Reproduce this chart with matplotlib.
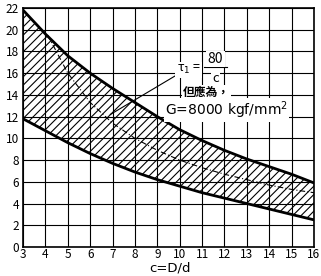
import matplotlib
matplotlib.use("Agg")
import matplotlib.pyplot as plt

# ── Data ──────────────────────────────────────────────────
c_vals = [3, 4, 5, 6, 7, 8, 9, 10, 11, 12, 13, 14, 15, 16]
upper = [21.8, 19.6, 17.6, 16.0, 14.6, 13.3, 12.0, 10.8, 9.8, 8.9, 8.1, 7.4, 6.7, 5.9]
lower = [11.8, 10.7, 9.6, 8.6, 7.7, 6.9, 6.2, 5.6, 5.0, 4.5, 4.0, 3.5, 3.0, 2.5]

c_dash = [4.1, 5, 6, 7, 8, 9, 10, 11, 12, 13, 14, 15, 16]
tau_dash = [19.5, 16.0, 13.3, 11.4, 10.0, 8.9, 8.0, 7.3, 6.7, 6.2, 5.7, 5.3, 5.0]

x_ticks = list(range(3, 17))
y_ticks = list(range(0, 23, 2))

plt.rcParams["font.family"] = ["Noto Sans CJK TC", "DejaVu Sans"]
plt.rcParams["hatch.linewidth"] = 0.8

fig = plt.figure(figsize=(3.21, 2.76), dpi=100)
ax = fig.add_axes([0.072, 0.105, 0.906, 0.866])

ax.set_xlim(3, 16)
ax.set_ylim(0, 22)
ax.set_xticks(x_ticks)
ax.set_yticks(y_ticks)
ax.grid(True, color="black", linewidth=0.8)
ax.set_axisbelow(True)
ax.tick_params(length=0, labelsize=8.5)
ax.tick_params(axis="x", pad=1)
ax.tick_params(axis="y", pad=3)
for s in ax.spines.values():
    s.set_linewidth(1.2)

# hatched band
ax.fill_between(c_vals, lower, upper, facecolor="none", edgecolor="black",
                hatch="////", linewidth=0)
ax.plot(c_vals, upper, color="black", lw=2)
ax.plot(c_vals, lower, color="black", lw=2)
ax.plot(c_dash, tau_dash, color="black", lw=0.8, linestyle=(0, (5, 2, 1, 2)))

# leader line from the dashed curve to the label
ax.plot([6.9, 10.0], [12.2, 16.0], color="black", lw=0.8)

# ── Labels ────────────────────────────────────────────────
white = dict(facecolor="white", edgecolor="none", pad=1)
ax.text(10.4, 16.3, "τ$_1$ =", fontsize=9, ha="center", va="center", bbox=white)
ax.text(11.6, 17.3, "80", fontsize=10, ha="center", va="center", bbox=white)
ax.text(11.6, 15.5, "c", fontsize=9.5, ha="center", va="center", bbox=white)
ax.plot([11.1, 12.1], [16.55, 16.55], color="black", lw=0.8)
ax.text(11.2, 14.2, "但應為，", fontsize=8.5, fontweight="bold",
        ha="center", va="center", bbox=white)
ax.text(9.35, 12.6, "G=8000 kgf/mm$^{2}$", fontsize=10, ha="left",
        va="center", bbox=white, family="DejaVu Sans")

fig.text(170 / 321, 1 - 268 / 276, "c=D/d", fontsize=9.5,
         ha="center", va="center", family="DejaVu Sans")

fig.savefig("out.png", dpi=100)
